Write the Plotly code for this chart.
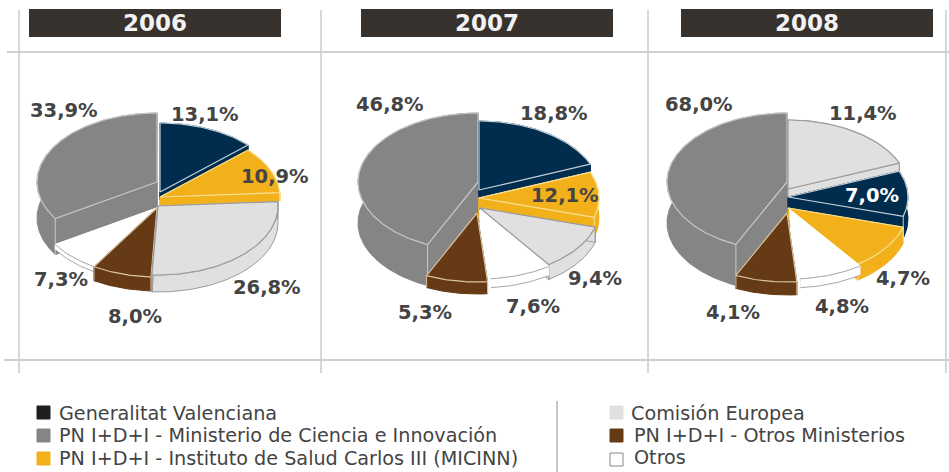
import math
import plotly.graph_objects as go

# ---------- data ----------
years = ["2006", "2007", "2008"]
sources = ["Generalitat Valenciana",
           "PN I+D+I - Ministerio de Ciencia e Innovación",
           "PN I+D+I - Instituto de Salud Carlos III (MICINN)",
           "Comisión Europea",
           "PN I+D+I - Otros Ministerios",
           "Otros"]
# printed percentages
labels_2006 = {"GV": "13,1%", "IS": "10,9%", "CE": "26,8%", "OM": "8,0%", "OT": "7,3%", "MC": "33,9%"}
labels_2007 = {"GV": "18,8%", "IS": "12,1%", "CE": "9,4%", "OT": "7,6%", "OM": "5,3%", "MC": "46,8%"}
labels_2008 = {"CE": "11,4%", "GV": "7,0%", "IS": "4,7%", "OT": "4,8%", "OM": "4,1%", "MC": "68,0%"}
# share of the circle each slice occupies in the picture, clockwise from the top
drawn_2006 = [("GV", 13.1), ("IS", 10.9), ("CE", 26.8), ("OM", 8.0), ("OT", 7.3), ("MC", 33.9)]
drawn_2007 = [("GV", 18.9), ("IS", 10.6), ("CE", 10.8), ("OT", 8.3), ("OM", 8.3), ("MC", 43.1)]
drawn_2008 = [("CE", 18.9), ("GV", 10.6), ("IS", 10.6), ("OT", 8.6), ("OM", 8.3), ("MC", 43.0)]

# ---------- styles / layout ----------
FILL = {"GV": "#002d4e", "MC": "#858585", "IS": "#f2b01a", "CE": "#e0e0e0", "OM": "#653a14", "OT": "#ffffff"}
EDGE = {"GV": "#c5d0d8", "MC": "#c8c8c8", "IS": "#f9e09a", "CE": "#9c9c9c", "OM": "#d9c4a4", "OT": "#ffffff"}
WALL = {"GV": "#002d4e", "MC": "#858585", "IS": "#f2b01a", "CE": "#9c9c9c", "OM": "#653a14", "OT": "#a8a8a8"}
FACE = {"GV": "#002d4e", "MC": "#858585", "IS": "#f2b01a", "CE": "#9c9c9c", "OM": "#653a14", "OT": "#ffffff"}
SWATCH = {"GV": "#1e1e1e", "MC": "#858585", "IS": "#f2b01a", "CE": "#e0e0e0", "OM": "#653a14", "OT": "#ffffff"}
RX, RY = 120, 69
# slice centre x, y, wall depth
GEO = {
    "2006": {"GV": (160, 192, 8), "IS": (160, 197, 8), "CE": (158, 206, 17), "OM": (157, 208, 14), "OT": (157, 208, 5), "MC": (157, 182, 36)},
    "2007": {"GV": (479, 190, 7), "IS": (479, 198, 20), "CE": (480, 208, 15), "OT": (480, 210, 9), "OM": (477, 213, 12), "MC": (478, 182, 41)},
    "2008": {"CE": (788, 189, 8), "GV": (788, 197, 22), "IS": (788, 208, 16), "OT": (790, 210, 9), "OM": (787, 213, 13), "MC": (787, 182, 41)},
}
PAINT = {
    "2006": ["MC", "GV", "IS", "OT", "OM", "CE"],
    "2007": ["MC", "GV", "IS", "CE", "OT", "OM"],
    "2008": ["MC", "CE", "GV", "IS", "OT", "OM"],
}
LABEL_XY = {
    "2006": {"MC": (64, 110), "GV": (205, 114), "IS": (275, 176), "CE": (267, 287), "OM": (135, 316), "OT": (61, 279)},
    "2007": {"MC": (390, 104), "GV": (554, 113), "IS": (565, 195), "CE": (595, 278), "OT": (533, 306), "OM": (425, 312)},
    "2008": {"MC": (699, 104), "CE": (863, 113), "GV": (872, 195), "IS": (903, 278), "OT": (842, 306), "OM": (733, 312)},
}
BOX = {"2006": (29, 281), "2007": (361, 613), "2008": (681, 933)}
TEXT = "#444444"

fig = go.Figure()


def poly(xs, ys, fill, line, width=1.0):
    fig.add_trace(go.Scatter(x=xs, y=ys, mode="lines", fill="toself", fillcolor=fill,
                             line=dict(color=line, width=width), hoverinfo="skip", showlegend=False))


def stroke(xs, ys, line, width=1.0):
    fig.add_trace(go.Scatter(x=xs, y=ys, mode="lines", line=dict(color=line, width=width),
                             hoverinfo="skip", showlegend=False))


def arc(cx, cy, a0, a1):
    n = max(3, int(abs(a1 - a0) * 60))
    ts = [a0 + (a1 - a0) * i / n for i in range(n + 1)]
    return [cx + RX * math.sin(t) for t in ts], [cy - RY * math.cos(t) for t in ts]


def draw_pie(year, drawn):
    total = sum(v for _, v in drawn)
    spans, acc = {}, 0.0
    for key, v in drawn:
        spans[key] = (acc / total * 2 * math.pi, (acc + v) / total * 2 * math.pi)
        acc += v
    for key in PAINT[year]:
        cx, cy, d = GEO[year][key]
        a0, a1 = spans[key]
        ax, ay = arc(cx, cy, a0, a1)
        # outer wall
        poly(ax + ax[::-1] + ax[:1], ay + [y + d for y in ay[::-1]] + ay[:1], FILL[key], WALL[key], 1)
        # cut faces
        poly([cx, ax[0], ax[0], cx, cx], [cy, ay[0], ay[0] + d, cy + d, cy], FILL[key], FACE[key], 1)
        poly([cx, ax[-1], ax[-1], cx, cx], [cy, ay[-1], ay[-1] + d, cy + d, cy], FILL[key], FACE[key], 1)
        # visible vertical edges of the wall
        for i in (0, -1):
            if math.cos(a0 if i == 0 else a1) < 0.35 and key != "OT":
                stroke([ax[i], ax[i]], [ay[i], ay[i] + d], EDGE[key], 1)
        # top surface
        poly([cx] + ax + [cx], [cy] + ay + [cy], FILL[key], EDGE[key], 1.2)
        if key == "OT":
            stroke(ax, ay, "#a8a8a8", 1)


for year, drawn in zip(years, [drawn_2006, drawn_2007, drawn_2008]):
    draw_pie(year, drawn)

# percentage labels
for year, labels in zip(years, [labels_2006, labels_2007, labels_2008]):
    for key, txt in labels.items():
        x, y = LABEL_XY[year][key]
        colour = "#ffffff" if (year == "2008" and key == "GV") else TEXT
        fig.add_annotation(x=x, y=y, text=txt, showarrow=False, xanchor="center", yanchor="middle",
                           font=dict(family="DejaVu Sans", size=19.5, color=colour, weight="bold"))

# frame lines and year boxes
shapes = []
for x in (19, 321, 648, 946):
    shapes.append(dict(type="line", x0=x, x1=x, y0=10, y1=373, line=dict(color="#b0b0b0", width=1)))
for y, x0 in ((52, 7), (360, 4)):
    shapes.append(dict(type="line", x0=x0, x1=949, y0=y, y1=y, line=dict(color="#cfcfcf", width=2)))
shapes.append(dict(type="line", x0=557, x1=557, y0=401, y1=472, line=dict(color="#b5b5b5", width=1.5)))
for year in years:
    x0, x1 = BOX[year]
    shapes.append(dict(type="rect", x0=x0, x1=x1, y0=9, y1=37, fillcolor="#38322e", line=dict(width=0)))
    fig.add_annotation(x=(x0 + x1) / 2, y=22.5, text=year, showarrow=False,
                       font=dict(family="DejaVu Sans", size=23, color="#f2f2f2", weight="bold"))

# legend
LEG = [("GV", 37, 406, 57, 413), ("MC", 37, 429, 57, 435), ("IS", 37, 452, 57, 458),
       ("CE", 610, 406, 629, 413), ("OM", 610, 429, 632, 435), ("OT", 610, 453, 632, 457)]
for name, (key, sx, sy, tx, ty) in zip(sources, LEG):
    shapes.append(dict(type="rect", x0=sx, x1=sx + 13, y0=sy, y1=sy + 13, fillcolor=SWATCH[key],
                       line=dict(color="#888888" if key == "OT" else SWATCH[key], width=1)))
    fig.add_annotation(x=tx, y=ty, text=name, showarrow=False, xanchor="left", yanchor="middle",
                       font=dict(family="DejaVu Sans", size=19.2, color=TEXT))

fig.update_layout(width=949, height=472, margin=dict(l=0, r=0, t=0, b=0),
                  paper_bgcolor="white", plot_bgcolor="white", showlegend=False, shapes=shapes,
                  xaxis=dict(range=[0, 949], visible=False, fixedrange=True),
                  yaxis=dict(range=[472, 0], visible=False, fixedrange=True))
fig.write_html("out.html", config={"displayModeBar": False},
               post_script="document.body.style.margin='0';")
